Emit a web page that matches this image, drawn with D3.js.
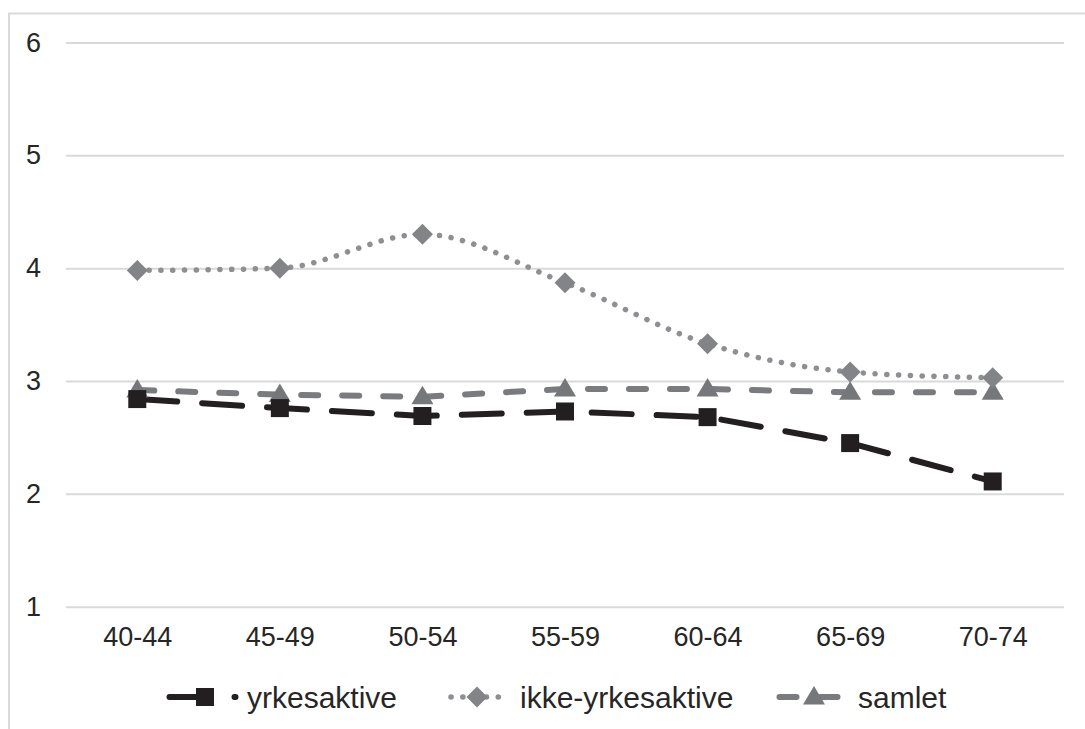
<!DOCTYPE html>
<html><head><meta charset="utf-8">
<script src="https://cdn.jsdelivr.net/npm/d3@7"></script>
<style>
html,body{margin:0;padding:0;background:#fff;}
svg{display:block;font-family:"Liberation Sans",Arial,sans-serif;}
</style></head><body>
<svg id="c" width="1085" height="729"></svg>
<script>
const categories = ["40-44","45-49","50-54","55-59","60-64","65-69","70-74"];
const yrkesaktive = [2.84, 2.76, 2.69, 2.73, 2.68, 2.45, 2.11];
const ikkeYrkesaktive = [3.98, 4.00, 4.30, 3.87, 3.33, 3.08, 3.03];
const samlet = [2.92, 2.88, 2.86, 2.93, 2.93, 2.90, 2.90];
const yTicks = [1,2,3,4,5,6];
const seriesNames = ["yrkesaktive","ikke-yrkesaktive","samlet"];

const svg = d3.select("#c");
const plot = {left: 66, right: 1064, top: 42.5, bottom: 606.7};

// frame
svg.append("rect").attr("x",9).attr("y",13.5).attr("width",1200).attr("height",1000)
  .attr("fill","none").attr("stroke","#d9d9d9").attr("stroke-width",2);

const x = d3.scalePoint().domain(categories).range([plot.left, plot.right]).padding(0.5);
const y = d3.scaleLinear().domain([1,6]).range([plot.bottom, plot.top]);

const yAxis = d3.axisLeft(y).tickValues(yTicks).tickSize(-(plot.right-plot.left)).tickFormat(d3.format("d")).tickPadding(25);
const gy = svg.append("g").attr("transform",`translate(${plot.left},0)`).call(yAxis);
gy.select(".domain").remove();
gy.selectAll(".tick line").attr("stroke","#d9d9d9").attr("stroke-width",2);
gy.selectAll(".tick text").attr("fill","#262626").attr("font-size",27).attr("font-family","Liberation Sans, Arial, sans-serif");

const xAxis = d3.axisBottom(x).tickSize(0).tickPadding(20);
const gx = svg.append("g").attr("transform",`translate(0,${plot.bottom})`).call(xAxis);
gx.select(".domain").remove();
gx.selectAll(".tick text").attr("fill","#262626").attr("font-size",27).attr("font-family","Liberation Sans, Arial, sans-serif");

const styles = [
  {data: yrkesaktive, color:"#231f20", dash:"40 25", width:6, marker:"square", mcolor:"#231f20"},
  {data: ikkeYrkesaktive, color:"#8e8f92", dash:"0.1 11.7", width:5.5, marker:"diamond", mcolor:"#838487"},
  {data: samlet, color:"#7a7b7e", dash:"17 24", width:6, marker:"triangle", mcolor:"#76777a"}
];

const smooth = d3.line().x((d,i)=>x(categories[i])).y(d=>y(d)).curve(d3.curveMonotoneX);
const straight = d3.line().x((d,i)=>x(categories[i])).y(d=>y(d));

function markerPath(type){
  if(type==="square") return "M-9,-9H9V9H-9Z";
  if(type==="diamond") return "M0,-10.5L10.5,0L0,10.5L-10.5,0Z";
  return "M0,-11L11,7.5L-11,7.5Z";
}

const order = [2,0,1];
order.forEach(k=>{
  const s = styles[k];
  svg.append("path").datum(s.data)
    .attr("d", k===1 ? smooth : straight)
    .attr("fill","none").attr("stroke",s.color).attr("stroke-width",s.width)
    .attr("stroke-dasharray",s.dash).attr("stroke-linecap","round").attr("stroke-linejoin","round");
});
order.forEach(k=>{
  const s = styles[k];
  svg.append("g").selectAll("path").data(s.data).join("path")
    .attr("transform",(d,i)=>`translate(${x(categories[i])},${y(d)})`)
    .attr("d", markerPath(s.marker))
    .attr("fill", s.mcolor);
});

// legend
const legendY = 697;
const legendItems = [
  {x0:169.5, x1:235.5, mx:205, tx:247},
  {x0:451, x1:504, mx:477, tx:520},
  {x0:779.5, x1:837.5, mx:814, tx:858}
];
legendItems.forEach((li,k)=>{
  const s = styles[k];
  const g = svg.append("g");
  g.append("line").attr("x1",li.x0).attr("x2",li.x1).attr("y1",legendY).attr("y2",legendY)
    .attr("stroke",s.color).attr("stroke-width",s.width).attr("stroke-dasharray",s.dash)
    .attr("stroke-linecap","round");
  g.append("path").attr("transform",`translate(${li.mx},${legendY})`)
    .attr("d",markerPath(s.marker)).attr("fill",s.mcolor);
  g.append("text").attr("x",li.tx).attr("y",legendY+11).attr("font-size",30)
    .attr("fill","#262626").text(seriesNames[k]);
});
</script>
</body></html>
